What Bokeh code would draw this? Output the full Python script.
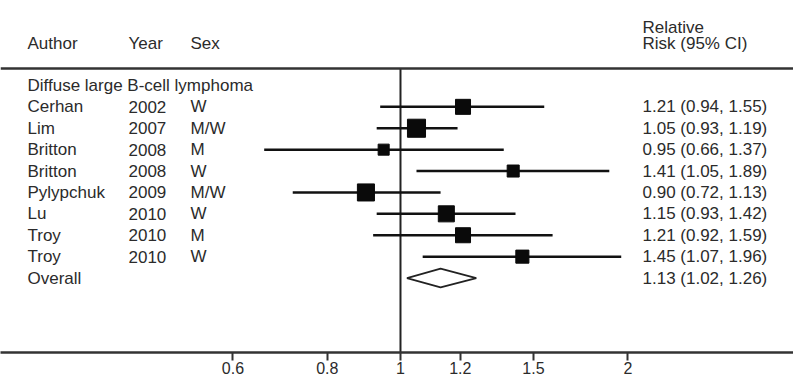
from bokeh.plotting import figure
from bokeh.models import (Range1d, FixedTicker, CustomJSTickFormatter, Span,
                          ColumnDataSource, LabelSet, Label)
from bokeh.core.properties import value
from bokeh.embed import file_html
from bokeh.resources import INLINE

# ---- data ----
authors = ["Cerhan", "Lim", "Britton", "Britton", "Pylypchuk", "Lu", "Troy", "Troy"]
years = ["2002", "2007", "2008", "2008", "2009", "2010", "2010", "2010"]
sexes = ["W", "M/W", "M", "W", "M/W", "W", "M", "W"]
rr = [1.21, 1.05, 0.95, 1.41, 0.90, 1.15, 1.21, 1.45]
ci_lo = [0.94, 0.93, 0.66, 1.05, 0.72, 0.93, 0.92, 1.07]
ci_hi = [1.55, 1.19, 1.37, 1.89, 1.13, 1.42, 1.59, 1.96]
weights = [12.8, 18.5, 6.9, 8.2, 16.5, 14.6, 12.8, 9.7]
overall_rr, overall_lo, overall_hi = 1.13, 1.02, 1.26
group_label = "Diffuse large B-cell lymphoma"
tick_values = [0.6, 0.8, 1, 1.2, 1.5, 2]

FONT = "Liberation Sans"
FS = "17px"
TXT = "#2b2b2b"

n = len(authors)
rows = [-(i + 1) for i in range(n)]
overall_row = -(n + 1)
Y0, Y1 = -12.48, 3.97

p = figure(width=793, height=380, x_axis_type="log", output_backend="svg",
           toolbar_location=None, y_axis_location=None,
           x_range=Range1d(0.2954, 3.314), y_range=Range1d(Y0, Y1),
           min_border=0, min_border_bottom=28)
p.outline_line_color = None
p.grid.visible = False

ax = p.xaxis[0]
ax.ticker = FixedTicker(ticks=tick_values, minor_ticks=[])
ax.formatter = CustomJSTickFormatter(code="return tick.toString();")
ax.axis_line_width = 2.5
ax.axis_line_color = "#333333"
ax.major_tick_line_width = 2
ax.major_tick_line_color = "#333333"
ax.major_tick_in = 0
ax.major_tick_out = 8
ax.minor_tick_line_color = None
ax.major_label_text_font = FONT
ax.major_label_text_font_size = "16px"
ax.major_label_text_color = TXT
ax.major_label_standoff = 1

# header rule
p.add_layout(Span(location=0.79, dimension="width", line_color="#333333", line_width=2.5))
# null line
p.segment(x0=[1], y0=[0.79], x1=[1], y1=[Y0], line_color="#222222", line_width=2)

# CI lines and boxes
src = ColumnDataSource(dict(
    y=rows, rr=rr, lo=ci_lo, hi=ci_hi,
    size=[4.2 * (w ** 0.5) for w in weights],
    author=authors, year=years, sex=sexes,
    ci=[f"{a:.2f} ({b:.2f}, {c:.2f})" for a, b, c in zip(rr, ci_lo, ci_hi)],
))
p.segment(x0="lo", y0="y", x1="hi", y1="y", source=src, line_color="#111111", line_width=2.5)
p.scatter(x="rr", y="y", size="size", marker="square", source=src,
          fill_color="#0a0a0a", line_color="#0a0a0a")

# overall diamond
h = 0.44
p.patch(x=[overall_lo, overall_rr, overall_hi, overall_rr, overall_lo],
        y=[overall_row, overall_row + h, overall_row, overall_row - h, overall_row],
        fill_color="white", line_color="#222222", line_width=1.8)

def col(field, xs):
    p.add_layout(LabelSet(x=xs, y="y", text=field, source=src, x_units="screen",
                          text_font=value(FONT), text_font_size=value(FS),
                          text_color=value(TXT),
                          text_baseline="middle", text_align="left"))

col("author", 27)
col("year", 128)
col("sex", 190)
col("ci", 642)

def lab(txt, xs, y):
    p.add_layout(Label(x=xs, y=y, x_units="screen", text=txt, text_font=FONT,
                       text_font_size=FS, text_color=TXT, text_baseline="middle"))

lab("Author", 27, 1.96)
lab("Year", 128, 1.96)
lab("Sex", 190, 1.96)
lab("Relative", 642, 2.7)
lab("Risk (95% CI)", 642, 1.96)
lab(group_label, 27, 0)
lab("Overall", 27, overall_row)
lab(f"{overall_rr:.2f} ({overall_lo:.2f}, {overall_hi:.2f})", 642, overall_row)

open("out.html", "w").write(file_html(p, INLINE))
